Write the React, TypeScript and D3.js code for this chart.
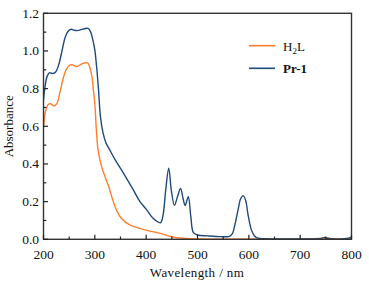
import React from "react";
import * as d3 from "d3";

const wlPr1 = [200, 203, 207, 212, 218, 224, 230, 236, 242, 248, 254, 260, 266, 272, 280, 287, 292, 296, 300, 304, 307, 311, 316, 322, 330, 340, 356, 375, 388, 400, 414, 428, 433, 438, 444, 449, 455, 461, 467, 472, 476, 482, 487, 492, 500, 520, 545, 562, 568, 572, 579, 584, 589, 594, 598, 605, 611, 618, 630, 700, 740, 748, 756, 790, 800];
const absPr1 = [0.74, 0.81, 0.865, 0.885, 0.88, 0.89, 0.93, 1.0, 1.07, 1.105, 1.115, 1.11, 1.108, 1.112, 1.118, 1.12, 1.1, 1.06, 1.005, 0.9, 0.8, 0.65, 0.565, 0.51, 0.47, 0.42, 0.35, 0.262, 0.2, 0.16, 0.11, 0.088, 0.13, 0.26, 0.377, 0.26, 0.18, 0.226, 0.27, 0.215, 0.18, 0.226, 0.12, 0.035, 0.023, 0.018, 0.014, 0.016, 0.03, 0.067, 0.156, 0.215, 0.232, 0.205, 0.138, 0.05, 0.018, 0.006, 0.003, 0.002, 0.004, 0.01, 0.004, 0.004, 0.012];

const wlH2L = [200, 204, 209, 214, 220, 226, 232, 238, 244, 252, 258, 265, 272, 280, 286, 290, 294, 297, 300, 303, 306, 310, 315, 320, 327, 333, 342, 352, 368, 388, 405, 426, 452, 475, 498, 600, 700, 745, 752, 760, 800];
const absH2L = [0.59, 0.68, 0.715, 0.72, 0.708, 0.72, 0.78, 0.85, 0.9, 0.926, 0.925, 0.917, 0.928, 0.936, 0.937, 0.915, 0.87, 0.8, 0.72, 0.58, 0.48, 0.42, 0.37, 0.332, 0.28, 0.226, 0.156, 0.11, 0.076, 0.058, 0.045, 0.033, 0.012, 0.005, 0.002, 0.001, 0.002, 0.006, 0.008, 0.003, 0.004];

const xMajor = [200, 300, 400, 500, 600, 700, 800];
const xMinor = [250, 350, 450, 550, 650, 750];
const yMajor = [0, 0.2, 0.4, 0.6, 0.8, 1.0, 1.2];
const yMinor = [0.1, 0.3, 0.5, 0.7, 0.9, 1.1];

const seriesNames = ["H2L", "Pr-1"];
const colors = ["#ff7f2a", "#1f4a7c"];

export default function App() {
  const W = 369, H = 284;
  const left = 43.5, right = 351.5, top = 13.3, bottom = 239.3;
  const x = d3.scaleLinear().domain([200, 800]).range([left, right]);
  const y = d3.scaleLinear().domain([0, 1.2]).range([bottom, top]);
  const line = d3
    .line<[number, number]>()
    .x((d) => x(d[0]))
    .y((d) => y(d[1]))
    .curve(d3.curveCatmullRom.alpha(0.5));
  const dH = line(wlH2L.map((w, i) => [w, absH2L[i]] as [number, number])) || "";
  const dP = line(wlPr1.map((w, i) => [w, absPr1[i]] as [number, number])) || "";
  const font = "'Liberation Serif', 'Times New Roman', serif";
  return (
    <svg width={W} height={H} style={{ position: "absolute", left: 0, top: 0 }}>
      <rect width={W} height={H} fill="#fff" />
      <defs>
        <clipPath id="plot">
          <rect x={left} y={top} width={right - left} height={bottom - top} />
        </clipPath>
      </defs>
      <g clipPath="url(#plot)" fill="none" strokeWidth={1.4}>
        <path d={dH} stroke={colors[0]} />
        <path d={dP} stroke={colors[1]} />
      </g>
      <rect x={left} y={top} width={right - left} height={bottom - top} fill="none" stroke="#333" strokeWidth={1.4} />
      {xMajor.map((v) => (
        <line key={"xM" + v} x1={x(v)} x2={x(v)} y1={bottom} y2={bottom - 4.5} stroke="#222" strokeWidth={1.2} />
      ))}
      {xMinor.map((v) => (
        <line key={"xm" + v} x1={x(v)} x2={x(v)} y1={bottom} y2={bottom - 2.8} stroke="#222" strokeWidth={1.2} />
      ))}
      {yMajor.map((v) => (
        <line key={"yM" + v} x1={left} x2={left + 4.5} y1={y(v)} y2={y(v)} stroke="#222" strokeWidth={1.2} />
      ))}
      {yMinor.map((v) => (
        <line key={"ym" + v} x1={left} x2={left + 2.8} y1={y(v)} y2={y(v)} stroke="#222" strokeWidth={1.2} />
      ))}
      <g fontFamily={font} fontSize={13.5} fill="#111">
        {xMajor.map((v) => (
          <text key={"xl" + v} x={x(v)} y={259} textAnchor="middle">{v}</text>
        ))}
        {yMajor.map((v) => (
          <text key={"yl" + v} x={39} y={y(v) + 4.5} textAnchor="end">{v.toFixed(1)}</text>
        ))}
      </g>
      <text x={197} y={277} textAnchor="middle" fontFamily={font} fontSize={13} fill="#111" letterSpacing={0.4}>
        Wavelength / nm
      </text>
      <text transform={`translate(13,${(top + bottom) / 2}) rotate(-90)`} textAnchor="middle" fontFamily={font} fontSize={13} fill="#111">
        Absorbance
      </text>
      <g fontFamily={font} fontSize={13} fill="#111">
        <line x1={249} x2={275} y1={45.7} y2={45.7} stroke={colors[0]} strokeWidth={1.6} />
        <text x={283} y={51}>
          H<tspan fontSize={9} dy={3}>2</tspan><tspan dy={-3}>L</tspan>
        </text>
        <line x1={249} x2={275} y1={68.3} y2={68.3} stroke={colors[1]} strokeWidth={1.6} />
        <text x={283} y={73} fontWeight="bold">{seriesNames[1]}</text>
      </g>
    </svg>
  );
}
